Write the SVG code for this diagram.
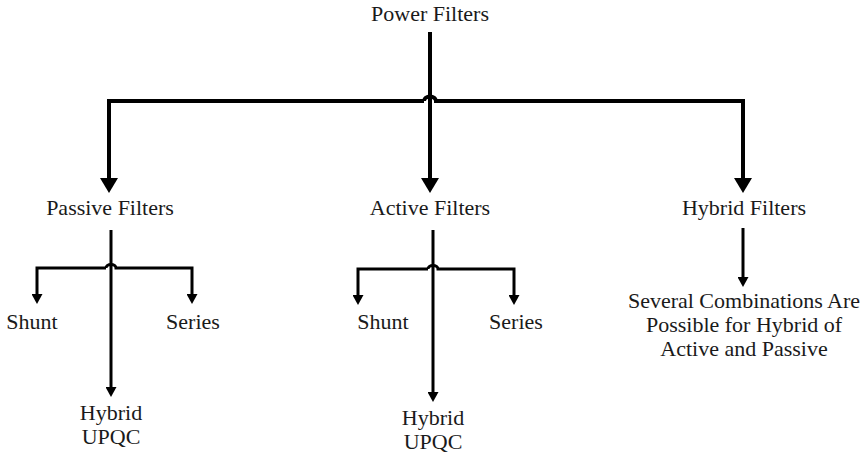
<svg xmlns="http://www.w3.org/2000/svg" width="867" height="457" viewBox="0 0 867 457">
<style>
.t{font-family:"Liberation Serif","Times New Roman",serif;font-size:22px;fill:#1a1a1a;text-anchor:middle}
.w1{fill:none;stroke:#000;stroke-width:4}
.w2{fill:none;stroke:#000;stroke-width:3}
</style>
<defs>
<marker id="big" markerUnits="userSpaceOnUse" viewBox="0 0 15 18" markerWidth="15" markerHeight="18" refX="3" refY="9" orient="auto"><path d="M0,0 L15,9 L0,18 z" fill="#000"/></marker>
<marker id="small" markerUnits="userSpaceOnUse" viewBox="0 0 10 11" markerWidth="10" markerHeight="11" refX="2" refY="5.5" orient="auto"><path d="M0,0 L10,5.5 L0,11 z" fill="#000"/></marker>
</defs>
<rect width="867" height="457" fill="#fff"/>
<g id="connectors">
<path class="w1" d="M430,32 V181" marker-end="url(#big)"/>
<path class="w1" d="M424,101 H109 V181" marker-end="url(#big)"/>
<path class="w1" d="M424,101 A6,4.5 0 0 1 436,101 H743 V181" marker-end="url(#big)"/>
<path class="w2" d="M111,230 V389" marker-end="url(#small)"/>
<path class="w2" d="M106,268 H37 V296" marker-end="url(#small)"/>
<path class="w2" d="M106,268 A5,3.5 0 0 1 116,268 H192 V296" marker-end="url(#small)"/>
<path class="w2" d="M433,230 V394" marker-end="url(#small)"/>
<path class="w2" d="M428,269 H358 V297" marker-end="url(#small)"/>
<path class="w2" d="M428,269 A5,3.5 0 0 1 438,269 H514 V297" marker-end="url(#small)"/>
<path class="w2" d="M743,228 V279" marker-end="url(#small)"/>
</g>
<g id="power"><text class="t" x="430" y="21">Power Filters</text></g>
<g id="passive"><text class="t" x="110" y="215">Passive Filters</text></g>
<g id="active"><text class="t" x="430" y="215">Active Filters</text></g>
<g id="hybrid"><text class="t" x="744" y="215">Hybrid Filters</text></g>
<g id="p-shunt"><text class="t" x="32" y="329">Shunt</text></g>
<g id="p-series"><text class="t" x="193" y="329">Series</text></g>
<g id="p-hybrid"><text class="t" x="111" y="420">Hybrid</text><text class="t" x="111" y="444">UPQC</text></g>
<g id="a-shunt"><text class="t" x="383" y="329">Shunt</text></g>
<g id="a-series"><text class="t" x="516" y="329">Series</text></g>
<g id="a-hybrid"><text class="t" x="433" y="425">Hybrid</text><text class="t" x="433" y="449">UPQC</text></g>
<g id="combos"><text class="t" x="744" y="308">Several Combinations Are</text><text class="t" x="744" y="332">Possible for Hybrid of</text><text class="t" x="744" y="356">Active and Passive</text></g>
</svg>
